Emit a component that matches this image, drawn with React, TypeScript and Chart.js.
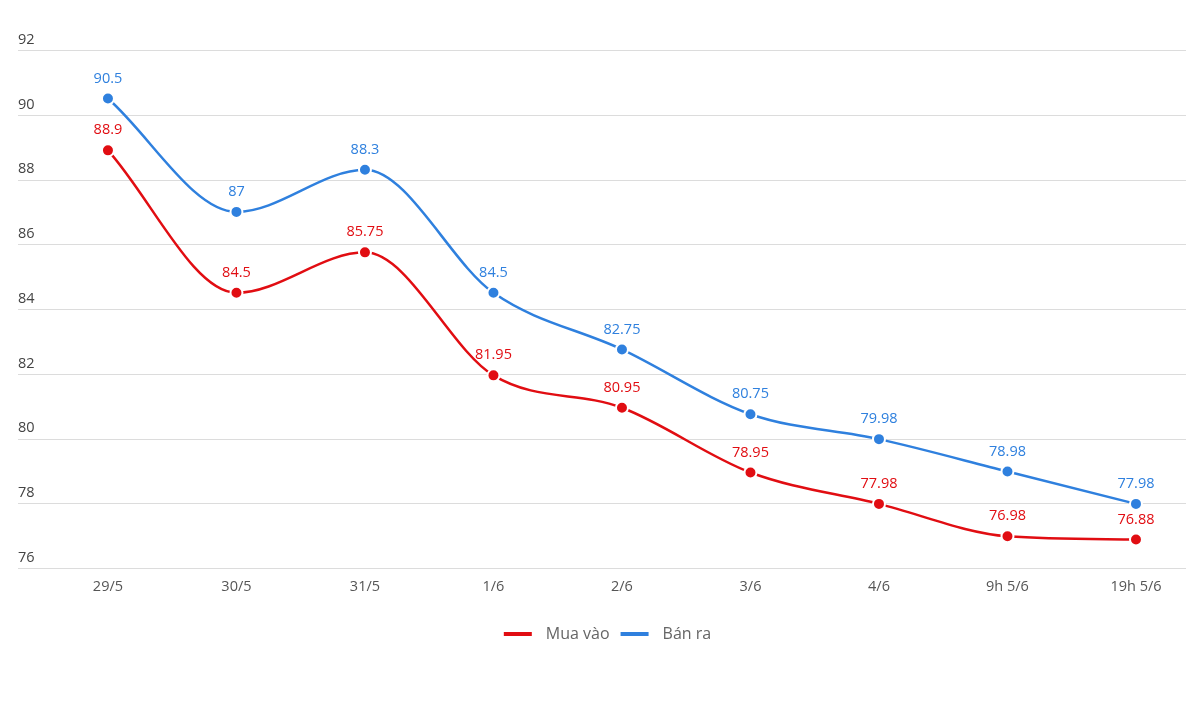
import React, { useEffect, useRef } from "react";
import { Chart, registerables } from "chart.js";

Chart.register(...registerables);

const categories = ["29/5", "30/5", "31/5", "1/6", "2/6", "3/6", "4/6", "9h 5/6", "19h 5/6"];
const muaVao = [88.9, 84.5, 85.75, 81.95, 80.95, 78.95, 77.98, 76.98, 76.88];
const banRa = [90.5, 87, 88.3, 84.5, 82.75, 80.75, 79.98, 78.98, 77.98];
const yTicks = [76, 78, 80, 82, 84, 86, 88, 90, 92];

const RED = "#e10d12";
const BLUE = "#2f80de";
const FONT = "'Open Sans', 'Noto Sans', sans-serif";

const gridPlugin = {
  id: "fullGrid",
  beforeDatasetsDraw(chart: any) {
    const { ctx, chartArea, scales, width } = chart;
    ctx.save();
    ctx.strokeStyle = "#dcdcdc";
    ctx.lineWidth = 1;
    yTicks.forEach((t) => {
      const y = Math.round(scales.y.getPixelForValue(t)) + 0.5;
      ctx.beginPath();
      ctx.moveTo(chartArea.left, y);
      ctx.lineTo(width, y);
      ctx.stroke();
    });
    ctx.restore();
  },
};

const yLabelPlugin = {
  id: "yLabelsAbove",
  afterDraw(chart: any) {
    const { ctx, chartArea, scales } = chart;
    ctx.save();
    ctx.font = `14.5px ${FONT}`;
    ctx.fillStyle = "#444";
    ctx.textAlign = "left";
    ctx.textBaseline = "bottom";
    yTicks.forEach((t) => {
      const y = scales.y.getPixelForValue(t);
      ctx.fillText(String(t), chartArea.left, y - 3);
    });
    ctx.restore();
  },
};

const dataLabelPlugin = {
  id: "dataLabels",
  afterDatasetsDraw(chart: any) {
    const { ctx } = chart;
    ctx.save();
    ctx.font = `14.5px ${FONT}`;
    ctx.textAlign = "center";
    ctx.textBaseline = "middle";
    chart.data.datasets.forEach((ds: any, di: number) => {
      const meta = chart.getDatasetMeta(di);
      meta.data.forEach((pt: any, i: number) => {
        ctx.fillStyle = ds.borderColor;
        ctx.fillText(String(ds.data[i].y), pt.x, pt.y - 20);
      });
    });
    ctx.restore();
  },
};

const legendPlugin = {
  id: "customLegend",
  afterDraw(chart: any) {
    const { ctx } = chart;
    const ds = chart.data.datasets;
    ctx.save();
    ctx.font = `16px ${FONT}`;
    ctx.textBaseline = "middle";
    ctx.textAlign = "left";
    const lineW = 28;
    const gapText = 14;
    const gapItem = 11;
    const widths = ds.map((d: any) => lineW + gapText + ctx.measureText(d.label).width);
    const total = widths.reduce((a: number, b: number) => a + b, 0) + gapItem * (ds.length - 1);
    let x = 607.5 - total / 2;
    const y = 634;
    ds.forEach((d: any, i: number) => {
      ctx.fillStyle = d.borderColor;
      ctx.fillRect(x, y - 2, lineW, 4);
      ctx.fillStyle = "#666";
      ctx.fillText(d.label, x + lineW + gapText, y);
      x += widths[i] + gapItem;
    });
    ctx.restore();
  },
};

export default function App() {
  const ref = useRef<HTMLCanvasElement>(null);
  useEffect(() => {
    const chart = new Chart(ref.current!, {
      type: "line",
      data: {
        datasets: [
          {
            label: "Mua vào",
            data: muaVao.map((v, i) => ({ x: i, y: v })),
            borderColor: RED,
            backgroundColor: RED,
            pointBackgroundColor: RED,
            pointBorderColor: "#fff",
            pointBorderWidth: 2,
            pointRadius: 6,
            borderWidth: 2.5,
            cubicInterpolationMode: "monotone",
          },
          {
            label: "Bán ra",
            data: banRa.map((v, i) => ({ x: i, y: v })),
            borderColor: BLUE,
            backgroundColor: BLUE,
            pointBackgroundColor: BLUE,
            pointBorderColor: "#fff",
            pointBorderWidth: 2,
            pointRadius: 6,
            borderWidth: 2.5,
            cubicInterpolationMode: "monotone",
          },
        ],
      },
      options: {
        animation: false,
        responsive: false,
        layout: { padding: { left: 18, right: 0, top: 50, bottom: 118 } },
        plugins: {
          tooltip: { enabled: false },
          legend: { display: false },
        },
        scales: {
          x: {
            type: "linear",
            min: -0.70,
            max: 8.327,
            afterBuildTicks: (axis: any) => {
              axis.ticks = categories.map((_, i) => ({ value: i }));
            },
            afterFit: (axis: any) => {
              axis.height = 30;
            },
            ticks: {
              autoSkip: false,
              maxRotation: 0,
              color: "#555",
              font: { family: FONT, size: 14.5 },
              padding: 2,
              callback: (v: any) => categories[v] ?? "",
            },
            grid: { display: false },
            border: { display: false },
          },
          y: {
            min: 76,
            max: 92,
            afterBuildTicks: (axis: any) => {
              axis.ticks = yTicks.map((v) => ({ value: v }));
            },
            afterFit: (axis: any) => {
              axis.width = 0;
            },
            ticks: { display: false },
            grid: { display: false },
            border: { display: false },
          },
        },
      },
      plugins: [gridPlugin, yLabelPlugin, dataLabelPlugin, legendPlugin],
    } as any);
    return () => chart.destroy();
  }, []);
  return (
    <div style={{ position: "absolute", left: 0, top: 0, width: 1186, height: 716, background: "#fff" }}>
      <canvas ref={ref} width={1186} height={716} style={{ width: 1186, height: 716 }} />
    </div>
  );
}
